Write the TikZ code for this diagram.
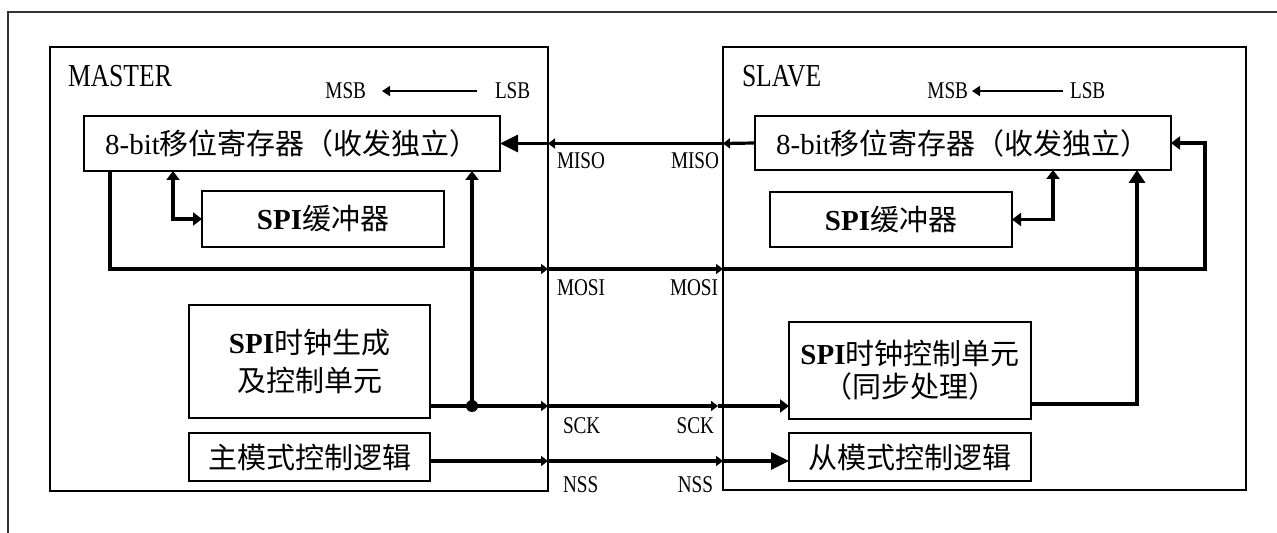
\documentclass[tikz,border=0pt]{standalone}
\usepackage{fontspec}
\setmainfont{Liberation Serif}
\newfontfamily\cjk{Noto Sans CJK SC}
\newfontfamily\sigfont[FakeStretch=0.8]{Liberation Serif}
\usetikzlibrary{positioning,arrows.meta}

\begin{document}
\begin{tikzpicture}[
    x=0.5pt, y=-0.5pt,
    every node/.style={inner sep=0pt, outer sep=0pt},
    part/.style={rectangle, draw, line width=0.9pt, anchor=north west},
    unit/.style={rectangle, draw, line width=1pt, align=center, anchor=north west,
        font=\fontsize{14.5pt}{16.5pt}\selectfont},
    sig/.style={font=\sigfont\fontsize{12pt}{14pt}\selectfont},
    title/.style={font=\sigfont\fontsize{16pt}{18pt}\selectfont},
    conn/.style={line width=1.6pt},
    arrS/.style={conn, -{Triangle[length=3.5pt,width=5pt]}},
    arrM/.style={conn, -{Triangle[length=4.5pt,width=6.5pt]}},
    arrV/.style={conn, -{Triangle[length=6.5pt,width=8pt]}},
    arrL/.style={conn, -{Triangle[length=9pt,width=8.5pt]}},
    arrMM/.style={conn, {Triangle[length=4.5pt,width=6.5pt]}-{Triangle[length=4.5pt,width=6.5pt]}},
    bitarr/.style={line width=0.8pt, -{Triangle[length=4pt,width=5pt]}},
]
    \useasboundingbox (0,0) rectangle (1277,533);
    \draw[line width=1pt, black!80] (8,533) |- (1277,12);

    % master and slave
    \node[part, minimum width=249pt, minimum height=222pt] (master) at (50,47) {};
    \node[part, minimum width=261.5pt, minimum height=221.5pt] (slave) at (723,47) {};
    \node[title, anchor=north west, below right=9pt and 9pt of master.north west] (mtitle) {MASTER};
    \node[title, anchor=north west, below right=9pt and 9.5pt of slave.north west] (stitle) {SLAVE};

    \node[sig, anchor=north east] (mmsb) at (366,83) {MSB};
    \node[sig, anchor=north west] (mlsb) at (495,83) {LSB};
    \draw[bitarr, shorten <=9pt, shorten >=8pt] (mlsb.west) -- (mmsb.east);
    \node[sig, anchor=north east] (smsb) at (968,83) {MSB};
    \node[sig, anchor=north west] (slsb) at (1070,83) {LSB};
    \draw[bitarr, shorten <=3.5pt, shorten >=2pt] (slsb.west) -- (smsb.east);

    \node[unit, minimum width=208pt, minimum height=27.5pt] (mreg) at (84,116)
        {8-bit{\cjk 移位寄存器（收发独立）}};
    \node[unit, minimum width=208pt, minimum height=27pt] (sreg) at (755,116)
        {8-bit{\cjk 移位寄存器（收发独立）}};
    \node[unit, minimum width=121pt, minimum height=28pt] (mbuf) at (202,191)
        {\textbf{SPI}{\cjk 缓冲器}};
    \node[unit, minimum width=121pt, minimum height=27.5pt] (sbuf) at (770,192)
        {\textbf{SPI}{\cjk 缓冲器}};
    \node[unit, minimum width=120.5pt, minimum height=56.5pt] (mclk) at (189,305)
        {\textbf{SPI}{\cjk 时钟生成}\\[2.5pt]{\cjk 及控制单元}};
    \node[unit, minimum width=120.5pt, minimum height=24pt] (mmode) at (189,433)
        {\cjk 主模式控制逻辑};
    \node[unit, minimum width=121pt, minimum height=48.5pt] (sclk) at (789,322)
        {\textbf{SPI}{\cjk 时钟控制单元}\\{\cjk （同步处理）}};
    \node[unit, minimum width=121pt, minimum height=24pt] (smode) at (789,433)
        {\cjk 从模式控制逻辑};

    % MISO
    \coordinate (misoM) at (mreg.east -| master.east);
    \coordinate (misoS) at (mreg.east -| slave.west);
    \draw[arrS] (sreg.west) -- (misoS);
    \draw[arrS] (misoS) -- (misoM);
    \draw[arrL] (misoM) -- (mreg.east);
    \node[sig, anchor=north west, below right=4.5pt and 4.5pt of misoM] (lmisoM) {MISO};
    \node[sig, anchor=north east, below left=4.5pt and 2pt of misoS] (lmisoS) {MISO};

    % MOSI
    \coordinate (mosiA) at ([xshift=13pt]mreg.south west);
    \coordinate (mosiY) at ([yshift=-11pt]mbuf.south);
    \coordinate (mosiM) at (mosiY -| master.east);
    \coordinate (mosiS) at (mosiY -| slave.west);
    \coordinate (sret) at ([xshift=17pt]sreg.east);
    \draw[arrS] (mosiA) |- (mosiM);
    \draw[arrS] (mosiM) -- (mosiS);
    \draw[arrM] (mosiS) -| (sret) -- (sreg.east);
    \node[sig, anchor=north west, below right=5.5pt and 4.5pt of mosiM] (lmosiM) {MOSI};
    \node[sig, anchor=north east, below left=5.5pt and 2.5pt of mosiS] (lmosiS) {MOSI};

    % buffers
    \draw[arrMM] ([xshift=44.5pt]mreg.south west) |- (mbuf.west);
    \draw[arrMM] ([xshift=-59pt]sreg.south east) |- (sbuf.east);

    % SCK
    \coordinate (sckA) at ([yshift=6pt]mclk.south east);
    \coordinate (dot) at ([xshift=21pt]sckA);
    \coordinate (sckM) at (sckA -| master.east);
    \coordinate (sckS) at ([xshift=-2.5pt]sckA -| slave.west);
    \draw[arrS] (sckA) -- (sckM);
    \draw[arrS] (sckM) -- (sckS);
    \draw[arrM] (sckS) -- (sckA -| sclk.west);
    \draw[arrM] (dot) -- (dot |- mreg.south);
    \fill (dot) circle[radius=3pt];
    \draw[arrV] ([yshift=7.5pt]sclk.south east) -| ([xshift=-17pt]sreg.south east);
    \node[sig, anchor=north west, below right=6pt and 7.5pt of sckM] (lsckM) {SCK};
    \node[sig, anchor=north east, below left=6pt and 2pt of sckS] (lsckS) {SCK};

    % NSS
    \coordinate (nssA) at ([yshift=-2pt]mmode.east);
    \coordinate (nssM) at (nssA -| master.east);
    \coordinate (nssS) at (nssA -| slave.west);
    \draw[arrS] (nssA) -- (nssM);
    \draw[arrS] (nssM) -- (nssS);
    \draw[arrL] (nssS) -- (nssA -| smode.west);
    \node[sig, anchor=north west, below right=8pt and 7.5pt of nssM] (lnssM) {NSS};
    \node[sig, anchor=north east, below left=8pt and 5pt of nssS] (lnssS) {NSS};
\end{tikzpicture}
\end{document}
